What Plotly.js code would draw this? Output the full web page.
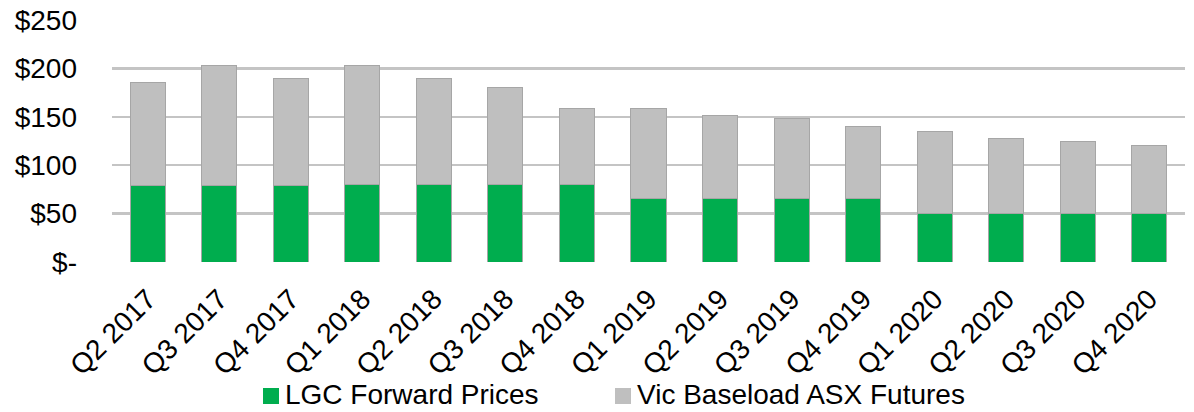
<!DOCTYPE html>
<html>
<head>
<meta charset="utf-8">
<script src="https://cdn.plot.ly/plotly-3.0.1.min.js"></script>
<style>html,body{margin:0;padding:0;background:#fff;}#chart{width:1194px;height:412px;}</style>
</head>
<body>
<div id="chart"></div>
<script>
var quarters = ["Q2 2017","Q3 2017","Q4 2017","Q1 2018","Q2 2018","Q3 2018","Q4 2018","Q1 2019","Q2 2019","Q3 2019","Q4 2019","Q1 2020","Q2 2020","Q3 2020","Q4 2020"];
var lgcForward = [79,79,79,80.5,80.5,80.5,80.5,66,66,66,66,50,50,50,50];
var vicBaseload = [106,124,110.5,122.5,109,99.5,78.5,93,85,82.5,73.5,85,77.5,74.5,70.5];
var yTickVals = [0,50,100,150,200,250];
var yTickText = ["$-","$50","$100","$150","$200","$250"];
var seriesNames = ["LGC Forward Prices","Vic Baseload ASX Futures"];
var seriesColors = ["#00ad4e","#bfbfbf"];

var FONT = "Liberation Sans, Arial, sans-serif";
var W = 1194, H = 412, ML = 112, MR = 9, MT = 20, MB = 150;
var PW = W - ML - MR, PH = H - MT - MB;
function px2x(px){ return (px - ML) / PW; }
function px2y(py){ return (H - MB - py) / PH; }

var traces = [
  {type:"bar", name:seriesNames[0], x:quarters, y:lgcForward,
   marker:{color:seriesColors[0], line:{color:"#a6a6a6", width:1}}},
  {type:"bar", name:seriesNames[1], x:quarters, y:vicBaseload,
   marker:{color:seriesColors[1], line:{color:"#a6a6a6", width:1}}}
];

// custom legend (positions only)
var legendX = [263, 615];
var legendY = 395;
var shapes = [], annotations = [];
for (var i = 0; i < seriesNames.length; i++) {
  shapes.push({type:"rect", xref:"paper", yref:"paper",
    x0:px2x(legendX[i]), x1:px2x(legendX[i]+16), y0:px2y(legendY+9), y1:px2y(legendY-7),
    fillcolor:seriesColors[i], line:{width:0}});
  annotations.push({xref:"paper", yref:"paper", x:px2x(legendX[i]+21), y:px2y(legendY),
    xanchor:"left", yanchor:"middle", showarrow:false, text:seriesNames[i], borderpad:0,
    font:{family:FONT, size:28, color:"#000"}});
}

var layout = {
  width:W, height:H,
  barmode:"stack", bargap:0.51,
  margin:{l:ML, r:MR, t:MT, b:MB},
  paper_bgcolor:"#fff", plot_bgcolor:"#fff",
  font:{family:FONT, size:28, color:"#000"},
  showlegend:false,
  shapes:shapes, annotations:annotations,
  xaxis:{type:"category", tickangle:-45, showgrid:false, zeroline:false, showline:false,
         ticks:"", ticklabelstandoff:14, tickfont:{family:FONT, size:28, color:"#000"}, automargin:false},
  yaxis:{range:[0,250], tickvals:yTickVals, ticktext:yTickText, showgrid:true,
         gridcolor:"#c4c4c4", gridwidth:2.5, zeroline:false, showline:false, ticks:"",
         ticklabelstandoff:34, tickfont:{family:FONT, size:28, color:"#000"}, automargin:false}
};
Plotly.newPlot("chart", traces, layout, {displayModeBar:false, staticPlot:true});
</script>
</body>
</html>
